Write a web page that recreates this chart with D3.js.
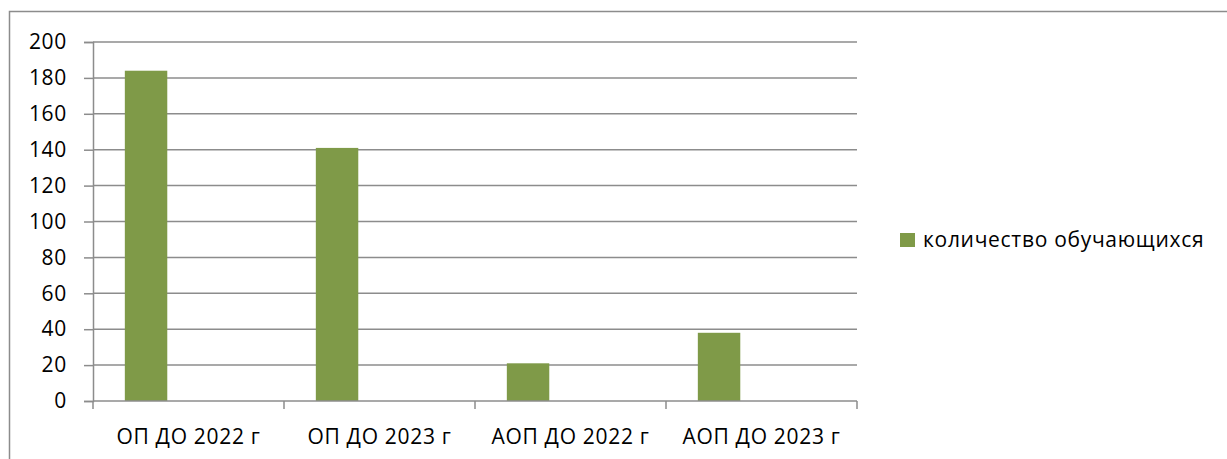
<!DOCTYPE html>
<html>
<head>
<meta charset="utf-8">
<script src="https://cdn.jsdelivr.net/npm/d3@7"></script>
<style>
  html, body { margin: 0; padding: 0; background: #fff; }
  svg { display: block; }
  text { font-family: "Open Sans", "Liberation Sans", Arial, sans-serif; fill: #000; }
</style>
</head>
<body>
<svg id="chart" width="1227" height="459"></svg>
<script>
// ---- data ----
const categories = ["ОП ДО 2022 г", "ОП ДО 2023 г", "АОП ДО 2022 г", "АОП ДО 2023 г"];
const seriesName = "количество обучающихся";
const seriesValues = [184, 141, 21, 38];
const yTicks = [0, 20, 40, 60, 80, 100, 120, 140, 160, 180, 200];
// cluster slots per category (Excel layout reserves three; only the first holds data)
const seriesSlots = [seriesName, "slot2", "slot3"];

// ---- layout ----
const svg = d3.select("#chart");
const W = 1227, H = 459;
const plot = { left: 93, right: 857, top: 42, bottom: 401 };
const gridColor = "#8c8c8c";
const barColor = "#7f9a48";
const fontSize = 21, letterSpacing = 0.7;

// outer chart border (extends past the window on right/bottom)
svg.append("rect")
  .attr("x", 9.5).attr("y", 11.5)
  .attr("width", W + 20).attr("height", H + 20)
  .attr("fill", "none").attr("stroke", gridColor).attr("stroke-width", 1.5);

const x0 = d3.scaleBand().domain(categories).range([plot.left, plot.right]).paddingInner(0).paddingOuter(0);
const x1 = d3.scaleBand().domain(seriesSlots).range([0, x0.bandwidth()]).paddingInner(0).paddingOuter(0.75);
const y = d3.scaleLinear().domain([0, 200]).range([plot.bottom, plot.top]);

// gridlines
svg.append("g")
  .selectAll("line")
  .data(yTicks.filter(d => d > 0))
  .join("line")
  .attr("x1", plot.left).attr("x2", plot.right)
  .attr("y1", d => y(d)).attr("y2", d => y(d))
  .attr("stroke", gridColor).attr("stroke-width", 1.5);

// y axis
const yAxis = d3.axisLeft(y).tickValues(yTicks).tickSize(9).tickPadding(17).tickFormat(d3.format("d"));
const gy = svg.append("g").attr("transform", `translate(${plot.left},0)`).call(yAxis);
gy.select(".domain").attr("stroke", gridColor).attr("stroke-width", 1.5);
gy.selectAll(".tick line").attr("stroke", gridColor).attr("stroke-width", 1.5);
gy.selectAll(".tick text")
  .attr("font-size", fontSize)
  .attr("font-family", "Open Sans, Liberation Sans, Arial, sans-serif")
  .attr("letter-spacing", letterSpacing)
  .attr("fill", "#000");

// bars
svg.append("g")
  .selectAll("rect")
  .data(seriesValues)
  .join("rect")
  .attr("x", (d, i) => x0(categories[i]) + x1(seriesName))
  .attr("width", x1.bandwidth())
  .attr("y", d => y(d))
  .attr("height", d => y(0) - y(d))
  .attr("fill", barColor);

// x axis
const gx = svg.append("g").attr("transform", `translate(0,${plot.bottom})`);
gx.append("line")
  .attr("x1", plot.left).attr("x2", plot.right)
  .attr("y1", 0).attr("y2", 0)
  .attr("stroke", gridColor).attr("stroke-width", 1.5);
const boundaries = categories.map(c => x0(c)).concat([plot.right]);
gx.selectAll("line.tk").data(boundaries).join("line").attr("class", "tk")
  .attr("x1", d => d).attr("x2", d => d)
  .attr("y1", 0).attr("y2", 8)
  .attr("stroke", gridColor).attr("stroke-width", 1.5);
gx.selectAll("text").data(categories).join("text")
  .attr("x", d => x0(d) + x0.bandwidth() / 2)
  .attr("y", 43)
  .attr("text-anchor", "middle")
  .attr("font-size", fontSize)
  .attr("letter-spacing", letterSpacing)
  .text(d => d);

// legend
const lg = svg.append("g").attr("transform", "translate(900,233)");
lg.append("rect").attr("x", 0).attr("y", 0).attr("width", 15).attr("height", 14).attr("fill", barColor);
lg.append("text").attr("x", 23).attr("y", 14).attr("font-size", fontSize)
  .attr("letter-spacing", letterSpacing).text(seriesName);
</script>
</body>
</html>
